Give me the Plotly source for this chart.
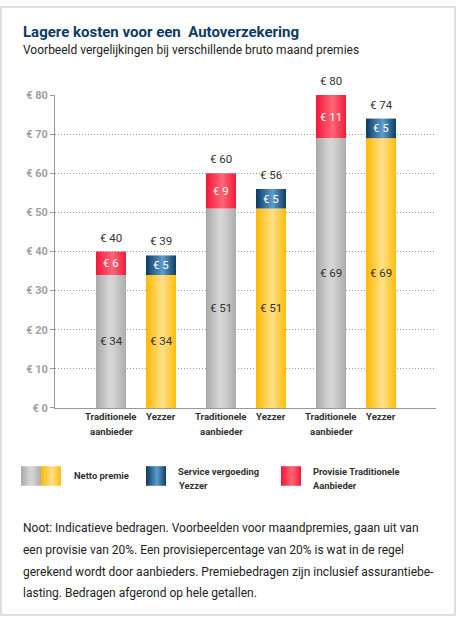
import plotly.graph_objects as go

# ---- data ----
groups = [1, 2, 3]
providers = ["Traditionele\naanbieder", "Yezzer"]
netto = [34, 34, 51, 51, 69, 69]          # netto premie per bar
extra = [6, 5, 9, 5, 11, 5]               # provisie (trad) / service vergoeding (Yezzer)
kind = ["trad", "yez", "trad", "yez", "trad", "yez"]
y_ticks = [0, 10, 20, 30, 40, 50, 60, 70, 80]
y_ticktext = ["€ " + str(v) for v in y_ticks]

W, H = 456, 623
FONT = "Roboto"

def px(xp):
    return xp / W

def py(yp):
    return 1 - yp / H

grad = {
    "gray": [[0, "#a8a8a8"], [0.45, "#d5d6d5"], [0.6, "#d0d1d0"], [1, "#acacac"]],
    "yellow": [[0, "#ffb900"], [0.55, "#ffe08a"], [1, "#ffbd08"]],
    "blue": [[0, "#0b3a5f"], [0.55, "#5c9ccc"], [1, "#0d3e62"]],
    "red": [[0, "#f2163a"], [0.55, "#ff6677"], [1, "#ef1b3a"]],
}

offset = 25 / 110
barw = 30 / 110

fig = go.Figure()

ann = []
for i in range(len(netto)):
    g = groups[i // 2]
    xc = g - offset if i % 2 == 0 else g + offset
    x0, x1 = xc - barw / 2, xc + barw / 2
    top = netto[i] + extra[i]
    base_c = "gray" if kind[i] == "trad" else "yellow"
    top_c = "red" if kind[i] == "trad" else "blue"
    for lo, hi, c in [(0, netto[i], base_c), (netto[i], top, top_c)]:
        fig.add_trace(go.Scatter(
            x=[x0, x1, x1, x0, x0], y=[lo, lo, hi, hi, lo],
            mode="lines", fill="toself", line=dict(width=0),
            fillgradient=dict(type="horizontal", colorscale=grad[c]),
            hoverinfo="skip", showlegend=False, xaxis="x", yaxis="y"))
    ann.append(dict(x=xc, y=top, xref="x", yref="y", yshift=14, showarrow=False,
                    text="€ " + str(top), font=dict(family=FONT, size=11.5, color="#333")))
    ann.append(dict(x=xc, y=netto[i] / 2, xref="x", yref="y", showarrow=False,
                    text="€ " + str(netto[i]), font=dict(family=FONT, size=11.5, color="#333")))
    ann.append(dict(x=xc, y=netto[i] + extra[i] / 2, xref="x", yref="y", showarrow=False,
                    text="€ " + str(extra[i]), font=dict(family=FONT, size=11.5, color="white")))
    lines = providers[i % 2].split("\n")
    for j, ln in enumerate(lines):
        ann.append(dict(x=xc, y=py(427 + 15 * j), xref="x", yref="paper", showarrow=False,
                        text=ln, font=dict(family=FONT, size=9.6, color="#333", weight="bold")))

# legend swatches (on a full-page helper subplot)
sw = [(21, 41, "gray"), (41, 61, "yellow"), (146, 166, "blue"), (281, 301, "red")]
for a, b, c in sw:
    fig.add_trace(go.Scatter(
        x=[a, b, b, a, a], y=[470, 470, 490, 490, 470], mode="lines", fill="toself",
        line=dict(width=0), fillgradient=dict(type="horizontal", colorscale=grad[c]),
        hoverinfo="skip", showlegend=False, xaxis="x2", yaxis="y2"))

leg_font = dict(family=FONT, size=9.4, color="#333", weight="bold")
for txt, xx, yy in [("Netto premie", 72, 480), ("Service vergoeding", 176, 475), ("Yezzer", 177, 490),
                    ("Provisie Traditionele", 311, 475), ("Aanbieder", 311, 490)]:
    ann.append(dict(x=px(xx), y=py(yy), xref="paper", yref="paper", xanchor="left", yanchor="middle",
                    showarrow=False, text=txt, font=leg_font))

# titles
ann.append(dict(x=px(21), y=py(27), xref="paper", yref="paper", xanchor="left", yanchor="middle",
                showarrow=False, text="Lagere kosten voor een\u00a0 Autoverzekering",
                font=dict(family=FONT, size=15, color="#0b3b64", weight="bold")))
ann.append(dict(x=px(21), y=py(45), xref="paper", yref="paper", xanchor="left", yanchor="middle",
                showarrow=False, text="Voorbeeld vergelijkingen bij verschillende bruto maand premies",
                font=dict(family=FONT, size=12, color="#222")))

note = ["Noot: Indicatieve bedragen. Voorbeelden voor maandpremies, gaan uit van",
        "een provisie van 20%. Een provisiepercentage van 20% is wat in de regel",
        "gerekend wordt door aanbieders. Premiebedragen zijn inclusief assurantiebe-",
        "lasting. Bedragen afgerond op hele getallen."]
for k, ln in enumerate(note):
    ann.append(dict(x=px(21), y=py(533 + 22.3 * k), xref="paper", yref="paper", xanchor="left",
                    yanchor="middle", showarrow=False, text=ln,
                    font=dict(family=FONT, size=12, color="#222")))

fig.update_layout(
    width=W, height=H, margin=dict(l=0, r=0, t=0, b=0),
    paper_bgcolor="white", plot_bgcolor="rgba(0,0,0,0)",
    xaxis=dict(domain=[55 / W, 436 / W], range=[(55 - 136) / 110 + 1, (436 - 136) / 110 + 1],
               showgrid=False, zeroline=False, showline=True, linecolor="#999", linewidth=1,
               showticklabels=False, ticks="", fixedrange=True),
    yaxis=dict(domain=[1 - 410.5 / H, 1 - 91 / H], range=[0, 80], tickvals=y_ticks, ticktext=y_ticktext,
               showgrid=True, gridcolor="#999", griddash="1px,2px", gridwidth=1, zeroline=False,
               showline=True, linecolor="#999", linewidth=1, ticks="outside", ticklen=4,
               tickcolor="#999", tickfont=dict(family=FONT, size=11, color="#a0a0a0", weight="bold"),
               fixedrange=True),
    xaxis2=dict(domain=[0, 1], range=[0, W], visible=False, anchor="y2", fixedrange=True),
    yaxis2=dict(domain=[0, 1], range=[H, 0], visible=False, anchor="x2", fixedrange=True),
    annotations=ann,
    shapes=[dict(type="rect", xref="paper", yref="paper", x0=0.002, x1=0.998, y0=0.0015, y1=0.9985,
                 line=dict(color="#dedede", width=2), layer="below")],
)

fig.write_html("out.html", config={"displayModeBar": False},
               post_script="document.body.style.margin='0';document.body.style.overflow='hidden';")
